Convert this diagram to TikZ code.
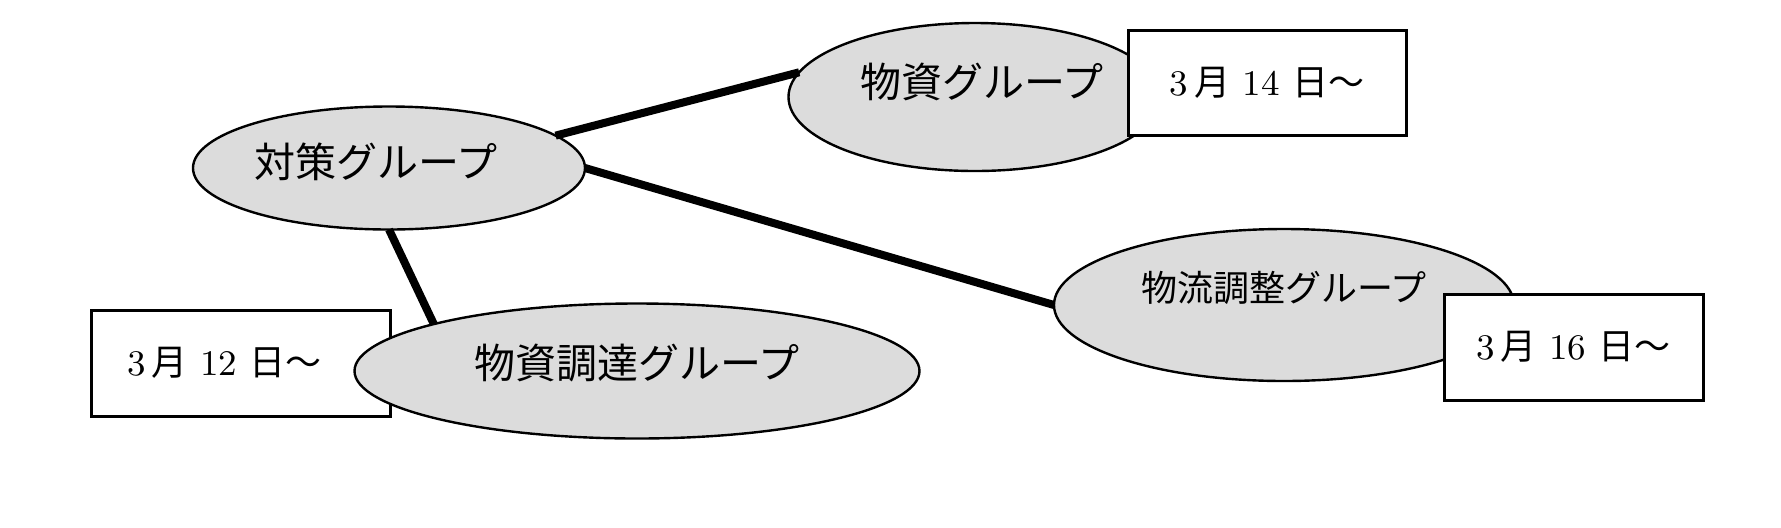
\documentclass[tikz,border=0pt]{standalone}
\usepackage{fontspec}
\newfontfamily\jp{Noto Sans CJK JP}
\usetikzlibrary{shapes.geometric}
\definecolor{groupgray}{RGB}{220,220,220}

\begin{document}
\begin{tikzpicture}[x=0.25pt, y=-0.25pt,
      group/.style={ellipse, draw, fill=groupgray, line width=0.6pt,
        inner sep=0pt, outer sep=0pt},
      grouptext/.style={font=\jp\fontsize{10.25}{12}\selectfont},
      datebox/.style={draw, fill=white, line width=0.75pt, inner sep=0pt,
        outer sep=0pt, font=\fontsize{9}{11}\selectfont},
      link/.style={line width=2pt}]
      \useasboundingbox (0,0) rectangle (1781,527);

      \node[datebox, minimum width=74.75pt, minimum height=26.5pt] (d12)
        at (240.5,363) {3\,{\jp 月} 12 {\jp 日〜}\hspace*{8pt}};

      \node[group, minimum width=98pt, minimum height=30.75pt,
        label={[grouptext, xshift=-3.25pt, yshift=1.5pt]center:対策グループ}]
        (taisaku) at (389,168) {};
      \node[group, minimum width=93.25pt, minimum height=37pt,
        label={[grouptext, xshift=1.75pt, yshift=3.75pt]center:物資グループ}]
        (busshi) at (975,97) {};
      \node[group, minimum width=115pt, minimum height=38pt,
        label={[grouptext, font=\jp\fontsize{9}{11}\selectfont, yshift=4.25pt]center:物流調整グループ}]
        (butsuryu) at (1284,305) {};
      \node[group, minimum width=141.25pt, minimum height=33.75pt,
        label={[grouptext, yshift=2pt]center:物資調達グループ}]
        (chotatsu) at (637,371) {};

      \foreach \from/\to in {%
        taisaku.11/busshi.172, taisaku.east/butsuryu.west,%
        taisaku.south/chotatsu.167%
      }{ \draw[link] (\from) -- (\to); }

      \node[datebox, minimum width=69.5pt, minimum height=26.25pt] (d14)
        at (1267,82.5) {3\,{\jp 月} 14 {\jp 日〜}};
      \node[datebox, minimum width=64.75pt, minimum height=26.5pt] (d16)
        at (1573.5,347) {3\,{\jp 月} 16 {\jp 日〜}};
    \end{tikzpicture}
\end{document}
